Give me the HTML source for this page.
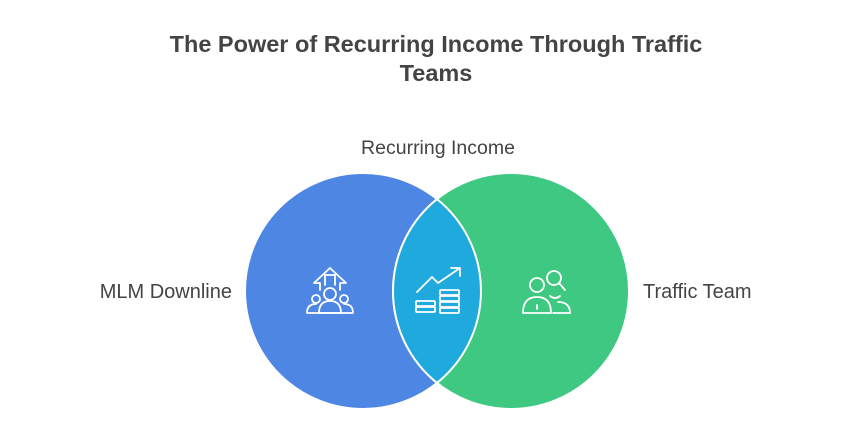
<!DOCTYPE html>
<html><head><style>
body{margin:0;background:#fff;width:854px;height:432px;overflow:hidden;font-family:"Liberation Sans",sans-serif}
</style></head><body>
<svg width="854" height="432" xmlns="http://www.w3.org/2000/svg">
<text x="436" y="52" text-anchor="middle" font-family="Liberation Sans,sans-serif" font-weight="bold" font-size="23.5" fill="#444">The Power of Recurring Income Through Traffic</text>
<text x="436" y="81" text-anchor="middle" font-family="Liberation Sans,sans-serif" font-weight="bold" font-size="23.5" fill="#444">Teams</text>
<text x="438" y="154" text-anchor="middle" font-family="Liberation Sans,sans-serif" font-size="19.5" fill="#444">Recurring Income</text>
<text x="232" y="298" text-anchor="end" font-family="Liberation Sans,sans-serif" font-size="20" fill="#444">MLM Downline</text>
<text x="643" y="298" font-family="Liberation Sans,sans-serif" font-size="20" fill="#444">Traffic Team</text>
<circle cx="363" cy="291" r="118" fill="#4e86e4" stroke="#fff" stroke-width="2"/>
<circle cx="511" cy="291" r="118" fill="#3ec882" stroke="#fff" stroke-width="2"/>
<path d="M437 199.1 A118 118 0 0 1 437 382.9 A118 118 0 0 1 437 199.1Z" fill="#20a9dc" stroke="#fff" stroke-width="2"/>
<g fill="none" stroke="#fff" stroke-width="1.8" stroke-linejoin="round" stroke-linecap="round">
<path d="M330 268 L314 283 L320 283 L320 290 M330 268 L346 283 L340 283 L340 290 M325 285 L325 275 L335 275 L335 285"/>
<circle cx="330" cy="294" r="6"/>
<path d="M319 313 Q319 301 330 301 Q341 301 341 313 Z"/>
<circle cx="316" cy="299" r="4"/><circle cx="344" cy="299" r="4"/>
<path d="M307 313 Q307 304 316 304 M353 313 Q353 304 344 304 M307 313 H353"/>
<path d="M417 292 L432 277 L438 283 L460 268 M451 268 L460 268 L460 276"/>
<rect x="416" y="301" width="19" height="5" rx="1"/><rect x="416" y="307" width="19" height="5" rx="1"/>
<rect x="440" y="290" width="19" height="5" rx="1"/><rect x="440" y="296" width="19" height="5" rx="1"/>
<rect x="440" y="302" width="19" height="5" rx="1"/><rect x="440" y="308" width="19" height="5" rx="1"/>
<circle cx="537" cy="285" r="7"/>
<path d="M523 313 Q523 297 537 297 Q551 297 551 313 Z M537 305 V309"/>
<circle cx="554" cy="278" r="7"/><path d="M559 283 L565 290"/>
<path d="M550 296 Q555 300 560 296 M553 313 H570 Q570 302 558 302"/>
</g>
</svg>
</body></html>
